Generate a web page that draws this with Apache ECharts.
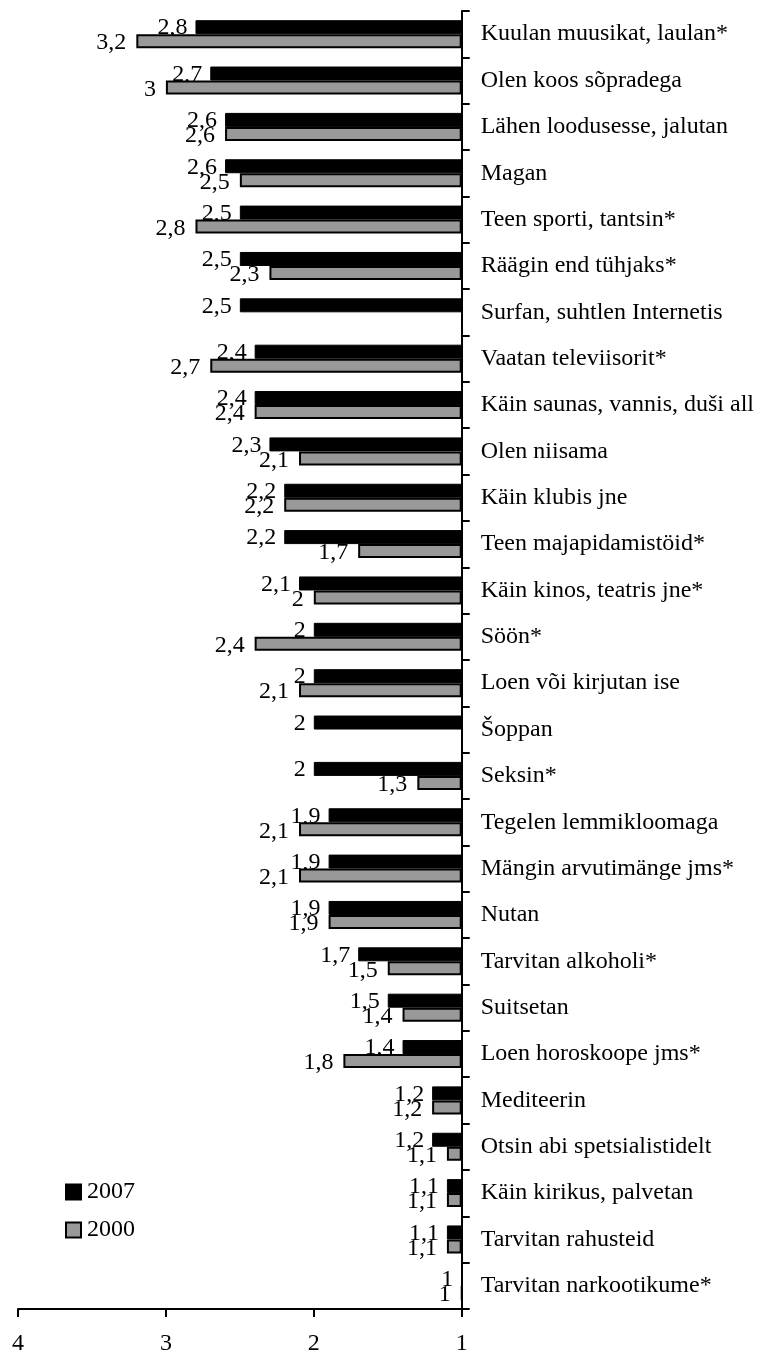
<!DOCTYPE html>
<html>
<head>
<meta charset="utf-8">
<script src="https://cdn.jsdelivr.net/npm/echarts@6/dist/echarts.min.js"></script>
<style>
  html, body { margin: 0; padding: 0; background: #ffffff; }
  #chart { width: 757px; height: 1356px; }
</style>
</head>
<body>
<div id="chart"></div>
<script>
// Activities (top to bottom) and mean scores for the two survey years
const categories = [
  'Kuulan muusikat, laulan*',
  'Olen koos sõpradega',
  'Lähen loodusesse, jalutan',
  'Magan',
  'Teen sporti, tantsin*',
  'Räägin end tühjaks*',
  'Surfan, suhtlen Internetis',
  'Vaatan televiisorit*',
  'Käin saunas, vannis, duši all',
  'Olen niisama',
  'Käin klubis jne',
  'Teen majapidamistöid*',
  'Käin kinos, teatris jne*',
  'Söön*',
  'Loen või kirjutan ise',
  'Šoppan',
  'Seksin*',
  'Tegelen lemmikloomaga',
  'Mängin arvutimänge jms*',
  'Nutan',
  'Tarvitan alkoholi*',
  'Suitsetan',
  'Loen horoskoope jms*',
  'Mediteerin',
  'Otsin abi spetsialistidelt',
  'Käin kirikus, palvetan',
  'Tarvitan rahusteid',
  'Tarvitan narkootikume*'
];

const values2007 = [2.8, 2.7, 2.6, 2.6, 2.5, 2.5, 2.5, 2.4, 2.4, 2.3, 2.2, 2.2, 2.1, 2, 2, 2, 2, 1.9, 1.9, 1.9, 1.7, 1.5, 1.4, 1.2, 1.2, 1.1, 1.1, 1];
const values2000 = [3.2, 3, 2.6, 2.5, 2.8, 2.3, null, 2.7, 2.4, 2.1, 2.2, 1.7, 2, 2.4, 2.1, null, 1.3, 2.1, 2.1, 1.9, 1.5, 1.4, 1.8, 1.2, 1.1, 1.1, 1.1, 1];

const seriesNames = ['2007', '2000'];
const axisTicks = [1, 2, 3, 4];

const FONT = '"Liberation Serif", "Times New Roman", serif';

// Estonian-style decimal comma
const fmt = v => String(v).replace('.', ',');

const chart = echarts.init(document.getElementById('chart'), null, { renderer: 'canvas' });

chart.setOption({
  backgroundColor: '#ffffff',
  animation: false,
  textStyle: { fontFamily: FONT, color: '#000' },
  legend: {
    orient: 'vertical',
    left: 60,
    top: 1175,
    itemWidth: 15,
    itemHeight: 15,
    itemGap: 14,
    icon: 'rect',
    textStyle: { fontFamily: FONT, fontSize: 24, color: '#000', padding: [0, 0, 0, 1] },
    data: seriesNames
  },
  grid: { left: 18, right: 294, top: 11, bottom: 43, containLabel: false },
  xAxis: {
    type: 'value',
    min: axisTicks[0],
    max: axisTicks[axisTicks.length - 1],
    interval: 1,
    inverse: true,
    // bars grow from 1 (the right-hand axis) toward higher scores
    startValue: axisTicks[0],
    axisLine: { show: true, lineStyle: { color: '#000', width: 2 } },
    axisTick: { show: true, length: 8, lineStyle: { color: '#000', width: 2 } },
    axisLabel: { fontFamily: FONT, fontSize: 24, color: '#000', margin: 23 },
    splitLine: { show: false }
  },
  yAxis: {
    type: 'category',
    position: 'right',
    inverse: true,
    data: categories,
    axisLine: { show: true, lineStyle: { color: '#000', width: 2 } },
    axisTick: { show: true, length: 8, lineStyle: { color: '#000', width: 2 } },
    axisLabel: { fontFamily: FONT, fontSize: 24, color: '#000', margin: 19, align: 'left' },
    splitLine: { show: false }
  },
  series: [
    {
      name: seriesNames[0],
      type: 'bar',
      data: values2007,
      barWidth: 14,
      barGap: '0%',
      clip: false,
      z: 2,
      itemStyle: { color: '#000000', borderColor: '#000', borderWidth: 1 },
      label: {
        show: true,
        position: 'left',
        distance: 8,
        offset: [0, 1],
        fontFamily: FONT,
        fontSize: 24,
        color: '#000',
        formatter: p => fmt(p.value)
      }
    },
    {
      name: seriesNames[1],
      type: 'bar',
      data: values2000,
      barWidth: 14,
      barGap: '0%',
      clip: false,
      // drawn on its own layer so the grey bars sit over the 2007 value labels
      zlevel: 1,
      itemStyle: { color: '#999999', borderColor: '#000', borderWidth: 2 },
      label: {
        show: true,
        position: 'left',
        distance: 10,
        offset: [0, 2],
        fontFamily: FONT,
        fontSize: 24,
        color: '#000',
        formatter: p => fmt(p.value)
      }
    }
  ]
});
</script>
</body>
</html>
